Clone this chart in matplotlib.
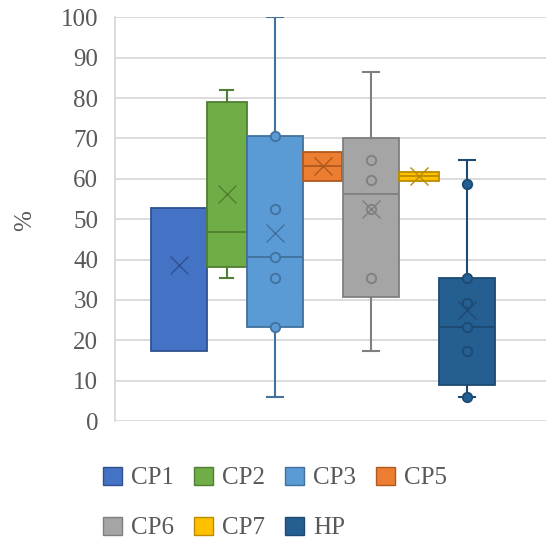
import numpy as np
import matplotlib
matplotlib.use("Agg")
import matplotlib.pyplot as plt
from matplotlib.patches import Patch

plt.rcParams['font.family'] = ['Liberation Serif', 'DejaVu Serif']

# series (values in %)
names   = ['CP1', 'CP2', 'CP3', 'CP5', 'CP6', 'CP7', 'HP']
q1      = [17.3, 38.2, 23.4, 59.5, 30.8, 59.5, 8.8]
median  = [17.3, 46.7, 40.7, 63.2, 56.2, 60.6, 23.4]
q3      = [52.7, 79.0, 70.6, 66.6, 70.1, 61.6, 35.3]
whislo  = [17.3, 35.3, 6.0, 59.5, 17.3, 59.5, 5.9]
whishi  = [52.7, 81.9, 100.0, 66.6, 86.4, 61.6, 64.6]
means   = [38.6, 56.2, 46.5, 63.2, 52.5, 60.6, 27.5]
points  = [[], [], [70.6, 52.6, 40.7, 35.3, 23.4], [],
           [64.6, 59.6, 52.5, 35.3], [], [58.6, 35.3, 29.3, 23.4, 17.4, 5.9]]

faces = ['#4472C4', '#70AD47', '#5B9BD5', '#ED7D31', '#A5A5A5', '#FFC000', '#255E91']
edges = ['#2F528F', '#507E32', '#41719C', '#AE5A21', '#7F7F7F', '#BC8C00', '#1D4A73']
pos    = [0.0, 0.993, 1.996, 2.99, 4.0, 5.0, 6.0]
widths = [1.18, 0.833, 1.16, 0.825, 1.18, 0.846, 1.18]
grey = '#595959'

fig = plt.figure(figsize=(5.46, 5.39), dpi=100)
ax = fig.add_axes([115/546, 1 - 421/539, 1 - 115/546, (421 - 17.3)/539])

for i in range(len(names)):
    st = dict(q1=q1[i], med=median[i], q3=q3[i], whislo=whislo[i], whishi=whishi[i],
              label=names[i])
    has_wh = whishi[i] > q3[i] or whislo[i] < q1[i]
    show_med = median[i] > q1[i]
    ax.bxp([st], positions=[pos[i]], widths=[widths[i]], patch_artist=True,
           showfliers=False, showcaps=has_wh,
           capwidths=[0.34 if widths[i] > 1 else 0.27],
           boxprops=dict(facecolor=faces[i], edgecolor=edges[i], lw=1.3),
           medianprops=dict(color=edges[i], lw=1.3 if show_med else 0),
           whiskerprops=dict(color=edges[i], lw=1.5),
           capprops=dict(color=edges[i], lw=1.5), zorder=2 + i)
    if points[i]:
        ax.plot([pos[i]] * len(points[i]), points[i], 'o', ms=6.8,
                mfc=faces[i], mec=edges[i], mew=1.3, zorder=3 + i, clip_on=False)
    ax.plot(pos[i], means[i], 'x', ms=13, color=edges[i], mew=1.0,
            zorder=3 + i, clip_on=False)

ax.set_ylim(0, 100)
ax.set_yticks(np.arange(0, 101, 10))
ax.set_xlim((115 - 179) / 48, (546 - 179) / 48)
ax.set_xticks([])
ax.yaxis.grid(True, color='#D9D9D9', lw=1.3)
ax.set_axisbelow(True)
for s in ['top', 'right', 'bottom']:
    ax.spines[s].set_visible(False)
ax.spines['left'].set_color('#D9D9D9')
ax.spines['left'].set_linewidth(1.3)
ax.tick_params(axis='y', length=0, pad=12, labelsize=18, labelcolor=grey)
fig.text(25/546, 1 - 221/539, '%', rotation=90, fontsize=18, color=grey,
         ha='center', va='center')

handles = [Patch(facecolor=faces[i], edgecolor=edges[i], lw=1.0) for i in range(len(names))]
leg_kw = dict(frameon=False, fontsize=18, handlelength=0.76, handleheight=0.76,
              handletextpad=0.36, columnspacing=0.8, borderpad=0, borderaxespad=0,
              labelcolor=grey, loc='center left')
leg1 = fig.legend(handles[:4], names[:4], ncol=4,
                  bbox_to_anchor=(103/546, 1 - 478/539), **leg_kw)
leg2 = fig.legend(handles[4:], names[4:], ncol=3,
                  bbox_to_anchor=(103/546, 1 - 528/539), **leg_kw)

fig.savefig('out.png', dpi=100)
